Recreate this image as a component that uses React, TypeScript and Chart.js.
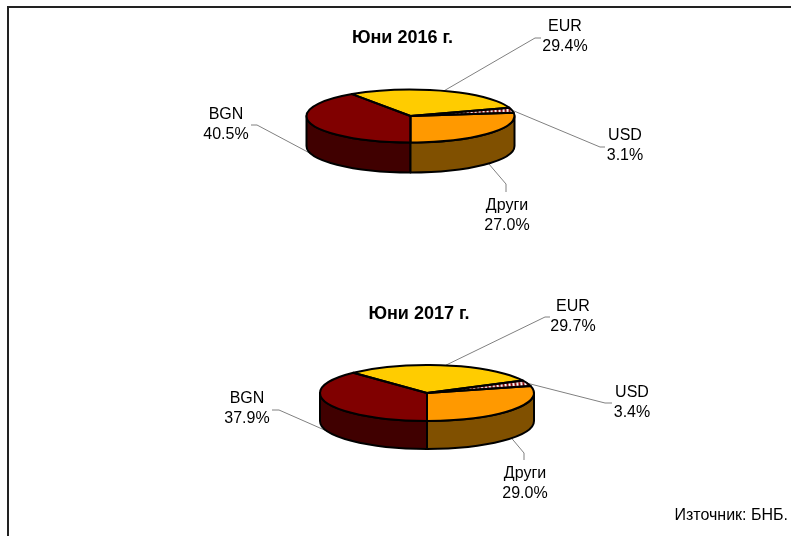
import React, { useEffect, useRef } from "react";
import { Chart, registerables } from "chart.js";

Chart.register(...registerables);

const categories = ["BGN", "EUR", "USD", "Други"];
const values2016 = [40.5, 29.4, 3.1, 27.0];
const values2017 = [37.9, 29.7, 3.4, 29.0];
const title2016 = "Юни 2016 г.";
const title2017 = "Юни 2017 г.";
const sourceText = "Източник: БНБ.";

const topColors = ["#800000", "#FFCC00", "HATCH", "#FF9900"];
const sideColors = ["#400000", "#806600", "#400000", "#805000"];

const W = 791;
const H = 536;
const FONT = '"Liberation Sans", Arial, sans-serif';

type Layout = {
  cx: number; cy: number; rx: number; ry: number; depth: number;
  title: [number, number];
  labels: [number, number][];
  elbows: [number, number][][];
};

const layout2016: Layout = {
  cx: 410.5, cy: 116, rx: 104, ry: 26.5, depth: 30,
  title: [402.5, 38],
  labels: [[226, 114.5], [565, 27], [625, 136], [507, 205.5]],
  elbows: [
    [[257, 125], [251, 125]],
    [[535, 38], [541, 38]],
    [[600, 147], [605, 147]],
    [[506, 184], [506, 192]],
  ],
};

const layout2017: Layout = {
  cx: 427, cy: 393, rx: 107, ry: 28, depth: 28,
  title: [419, 314],
  labels: [[247, 398.5], [573, 306.5], [632, 393], [525, 473.5]],
  elbows: [
    [[279, 410], [272, 410]],
    [[545, 317], [550, 317]],
    [[605, 403], [612, 403]],
    [[524, 453], [524, 460]],
  ],
};

function makeHatch(): CanvasPattern | string {
  const c = document.createElement("canvas");
  c.width = 4;
  c.height = 4;
  const g = c.getContext("2d");
  if (!g) return "#fff";
  g.fillStyle = "#ffffff";
  g.fillRect(0, 0, 4, 4);
  g.strokeStyle = "#800000";
  g.lineWidth = 1.4;
  g.beginPath();
  g.moveTo(-1, 5);
  g.lineTo(5, -1);
  g.moveTo(-1, 1);
  g.lineTo(1, -1);
  g.moveTo(3, 5);
  g.lineTo(5, 3);
  g.stroke();
  return g.createPattern(c, "repeat") || "#fff";
}

function pie3d(cfg: Layout, withSource: boolean, titleText: string) {
  const k = cfg.ry / cfg.rx;
  return {
    id: "pie3d",
    beforeDatasetsDraw(chart: any) {
      const { ctx } = chart;
      const arcs = chart.getDatasetMeta(0).data;
      // leader lines, behind the pie
      ctx.save();
      ctx.strokeStyle = "#808080";
      ctx.lineWidth = 1;
      arcs.forEach((a: any, i: number) => {
        const mid = (a.startAngle + a.endAngle) / 2;
        const sy = Math.sin(mid);
        const x0 = a.x + cfg.rx * Math.cos(mid);
        const y0 = a.y + cfg.ry * sy + (sy > 0 ? cfg.depth : 0);
        ctx.beginPath();
        ctx.moveTo(x0, y0);
        cfg.elbows[i].forEach(([x, y]) => ctx.lineTo(x, y));
        ctx.stroke();
      });
      // side walls
      ctx.strokeStyle = "#000";
      ctx.lineWidth = 2;
      ctx.lineJoin = "round";
      const TAU = Math.PI * 2;
      arcs.forEach((a: any, i: number) => {
        [0, TAU, -TAU].forEach((off) => {
          const s = Math.max(a.startAngle, off);
          const e = Math.min(a.endAngle, off + Math.PI);
          if (e <= s) return;
          ctx.beginPath();
          ctx.ellipse(a.x, a.y, cfg.rx, cfg.ry, 0, s, e);
          ctx.lineTo(a.x + cfg.rx * Math.cos(e), a.y + cfg.ry * Math.sin(e) + cfg.depth);
          ctx.ellipse(a.x, a.y + cfg.depth, cfg.rx, cfg.ry, 0, e, s, true);
          ctx.closePath();
          ctx.fillStyle = sideColors[i];
          ctx.fill();
          ctx.stroke();
        });
      });
      ctx.restore();
      // squash the library's own arcs into the tilted top face
      ctx.save();
      ctx.translate(0, cfg.cy);
      ctx.scale(1, k);
      ctx.translate(0, -cfg.cy);
    },
    afterDatasetsDraw(chart: any) {
      const { ctx } = chart;
      ctx.restore();
      const arcs = chart.getDatasetMeta(0).data;
      ctx.save();
      ctx.strokeStyle = "#000";
      ctx.lineWidth = 2;
      ctx.lineJoin = "round";
      arcs.forEach((a: any) => {
        ctx.beginPath();
        ctx.moveTo(a.x, a.y);
        ctx.ellipse(a.x, a.y, cfg.rx, cfg.ry, 0, a.startAngle, a.endAngle);
        ctx.closePath();
        ctx.stroke();
      });
      ctx.restore();
      // texts
      ctx.save();
      ctx.textAlign = "center";
      ctx.textBaseline = "middle";
      ctx.fillStyle = "#000";
      ctx.font = `bold 18px ${FONT}`;
      ctx.fillText(titleText, cfg.title[0], cfg.title[1]);
      ctx.font = `16px ${FONT}`;
      const vals = chart.data.datasets[0].data;
      chart.data.labels.forEach((lab: string, i: number) => {
        const [x, y] = cfg.labels[i];
        ctx.fillText(lab, x, y);
        ctx.fillText(`${Number(vals[i]).toFixed(1)}%`, x, y + 20);
      });
      if (withSource) {
        ctx.textAlign = "right";
        ctx.fillText(sourceText, 788, 516);
      }
      ctx.restore();
    },
  };
}

function makeChart(canvas: HTMLCanvasElement, values: number[], cfg: Layout, withSource: boolean, titleText: string) {
  const hatch = makeHatch();
  return new Chart(canvas, {
    type: "pie",
    data: {
      labels: categories,
      datasets: [
        {
          data: values,
          backgroundColor: topColors.map((c) => (c === "HATCH" ? hatch : c)) as any,
          borderWidth: 0,
        },
      ],
    },
    options: {
      responsive: false,
      animation: false,
      rotation: 180,
      events: [],
      layout: {
        padding: {
          left: cfg.cx - cfg.rx,
          right: W - cfg.cx - cfg.rx,
          top: cfg.cy - cfg.rx,
          bottom: H - cfg.cy - cfg.rx,
        },
      },
      plugins: { legend: { display: false }, tooltip: { enabled: false }, title: { display: false } },
    } as any,
    plugins: [pie3d(cfg, withSource, titleText)],
  });
}

export default function App() {
  const a = useRef<HTMLCanvasElement>(null);
  const b = useRef<HTMLCanvasElement>(null);
  useEffect(() => {
    const c1 = makeChart(a.current!, values2016, layout2016, false, title2016);
    const c2 = makeChart(b.current!, values2017, layout2017, true, title2017);
    return () => {
      c1.destroy();
      c2.destroy();
    };
  }, []);
  const abs: React.CSSProperties = { position: "absolute", left: 0, top: 0, display: "block" };
  return (
    <div style={{ position: "absolute", left: 0, top: 0, width: W, height: H, overflow: "hidden", background: "#fff" }}>
      <div style={{ position: "absolute", left: 7, top: 6, width: W, height: H, borderLeft: "2px solid #222", borderTop: "2px solid #222" }} />
      <canvas ref={a} width={W} height={H} style={abs} />
      <canvas ref={b} width={W} height={H} style={abs} />
    </div>
  );
}
